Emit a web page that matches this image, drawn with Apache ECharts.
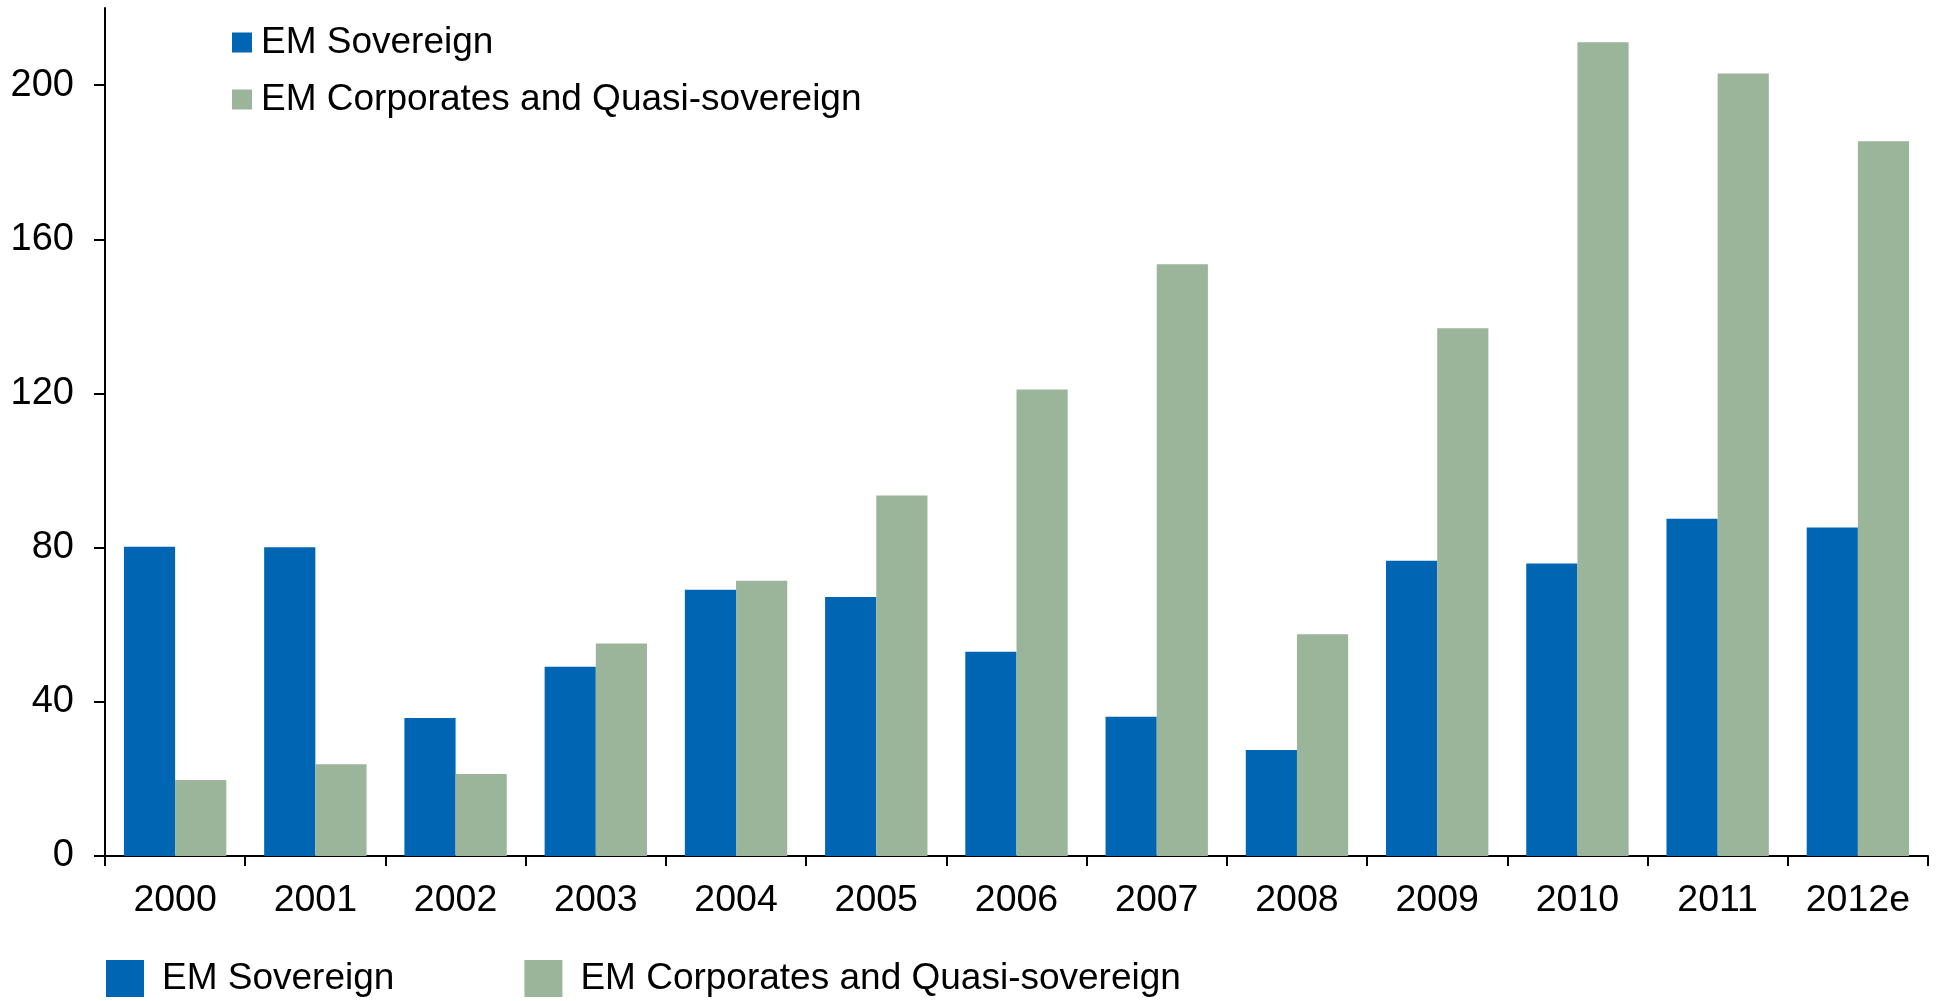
<!DOCTYPE html>
<html>
<head>
<meta charset="utf-8">
<script src="https://cdn.jsdelivr.net/npm/echarts@6/dist/echarts.min.js"></script>
<style>
html,body{margin:0;padding:0;background:#fff;}
#chart{width:1939px;height:1001px;}
</style>
</head>
<body>
<div id="chart"></div>
<script>
const categories = ['2000','2001','2002','2003','2004','2005','2006','2007','2008','2009','2010','2011','2012e'];
const sovereign = [80.2, 80.1, 35.8, 49.1, 69.1, 67.2, 53.0, 36.1, 27.5, 76.6, 75.9, 87.5, 85.2];
const corporates = [19.7, 23.8, 21.3, 55.1, 71.4, 93.5, 121.0, 153.5, 57.5, 136.9, 211.1, 203.0, 185.4];
const yTicks = [0, 40, 80, 120, 160, 200];
const seriesNames = ['EM Sovereign', 'EM Corporates and Quasi-sovereign'];

const FONT = '"Liberation Sans", Arial, sans-serif';
const BLUE = '#0066B3';
const GREEN = '#9BB59A';

const chart = echarts.init(document.getElementById('chart'), null, {renderer: 'canvas'});
chart.setOption({
  animation: false,
  backgroundColor: '#ffffff',
  textStyle: {fontFamily: FONT, color: '#000'},
  grid: {left: 105, right: 11, top: 8, bottom: 145, containLabel: false},
  legend: [
    {
      orient: 'vertical',
      left: 232, top: 24, padding: 0,
      itemWidth: 20, itemHeight: 20, itemGap: 20,
      icon: 'rect',
      textStyle: {fontFamily: FONT, fontSize: 37, color: '#000', lineHeight: 36, padding: [0,0,0,4]},
      data: seriesNames
    },
    {
      orient: 'horizontal',
      left: 106, top: 960, padding: 0,
      itemWidth: 38, itemHeight: 37, itemGap: 130,
      icon: 'rect',
      textStyle: {fontFamily: FONT, fontSize: 37, color: '#000', lineHeight: 37, padding: [0,0,0,13]},
      data: seriesNames
    }
  ],
  xAxis: {
    type: 'category',
    data: categories,
    boundaryGap: true,
    axisLine: {show: true, lineStyle: {color: '#000', width: 2}},
    axisTick: {show: true, length: 10, lineStyle: {color: '#000', width: 2}},
    axisLabel: {fontFamily: FONT, fontSize: 37.5, color: '#000', margin: 26},
    splitLine: {show: false}
  },
  yAxis: {
    type: 'value',
    min: 0, max: 220, interval: 40,
    axisLine: {show: true, lineStyle: {color: '#000', width: 2}},
    axisTick: {show: true, length: 11, lineStyle: {color: '#000', width: 2}, customValues: yTicks},
    axisLabel: {fontFamily: FONT, fontSize: 38, color: '#000', margin: 31, customValues: yTicks,
      formatter: v => (yTicks.indexOf(v) >= 0 ? String(v) : '')},
    splitLine: {show: false}
  },
  series: [
    {name: seriesNames[0], type: 'bar', data: sovereign, barGap: '0%', barCategoryGap: '27%',
     itemStyle: {color: BLUE}},
    {name: seriesNames[1], type: 'bar', data: corporates, barGap: '0%', barCategoryGap: '27%',
     itemStyle: {color: GREEN}}
  ]
});
</script>
</body>
</html>
